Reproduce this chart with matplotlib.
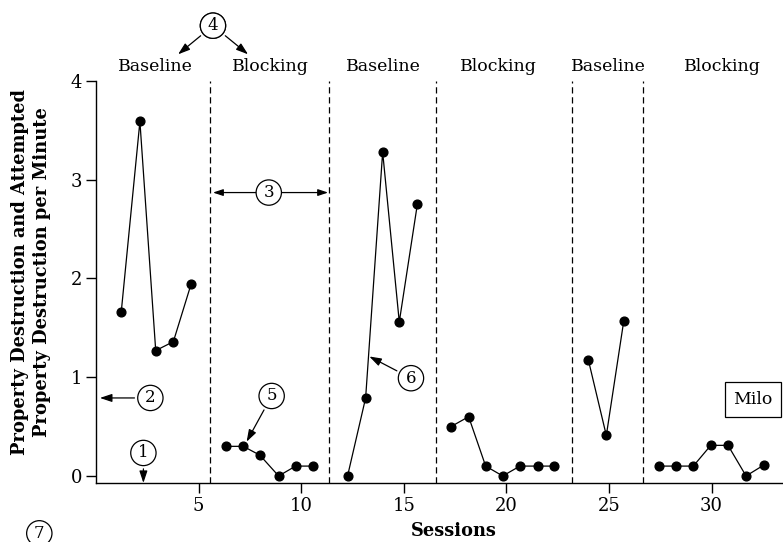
import matplotlib.pyplot as plt

plt.rcParams['font.family'] = ['DejaVu Serif']

# seans konumları ve değerler
bl1_x = [1.23, 2.14, 2.91, 3.77, 4.63]
bl1_y = [1.66, 3.59, 1.27, 1.36, 1.94]
bk1_x = [6.32, 7.18, 7.99, 8.90, 9.73, 10.59]
bk1_y = [0.30, 0.30, 0.21, 0.0, 0.10, 0.10]
bl2_x = [12.26, 13.14, 13.97, 14.78, 15.66]
bl2_y = [0.0, 0.79, 3.28, 1.56, 2.75]
bk2_x = [17.30, 18.16, 18.99, 19.82, 20.66, 21.52, 22.32]
bk2_y = [0.50, 0.60, 0.10, 0.0, 0.10, 0.10, 0.10]
bl3_x = [24.00, 24.87, 25.72]
bl3_y = [1.17, 0.41, 1.57]
bk3_x = [27.42, 28.27, 29.11, 29.96, 30.80, 31.68, 32.54]
bk3_y = [0.10, 0.10, 0.10, 0.31, 0.31, 0.0, 0.11]

phase_lines = [5.57, 11.37, 16.57, 23.2, 26.67]
phase_names = ['Baseline', 'Blocking', 'Baseline', 'Blocking', 'Baseline', 'Blocking']
phase_centers = [2.88, 8.50, 13.99, 19.59, 24.95, 30.53]

x_ticks = [5, 10, 15, 20, 25, 30]
y_ticks = [0, 1, 2, 3, 4]

fig = plt.figure(figsize=(7.83, 5.42), dpi=100)
ax = fig.add_axes([0.1226, 0.1089, 0.8774, 0.7417])
ax.set_xlim(0, 33.48)
ax.set_ylim(-0.071, 4)

for xs, ys in [(bl1_x, bl1_y), (bk1_x, bk1_y), (bl2_x, bl2_y),
               (bk2_x, bk2_y), (bl3_x, bl3_y), (bk3_x, bk3_y)]:
    ax.plot(xs, ys, color='black', lw=0.9, marker='o', ms=6.3, clip_on=False, zorder=3)

for xl in phase_lines:
    ax.plot([xl, xl], [-0.071, 4], color='black', lw=0.9, ls=(0, (5, 3)), clip_on=False)

for name, xc in zip(phase_names, phase_centers):
    ax.text(xc, 4.15, name, ha='center', va='center', fontsize=12.5)

ax.spines['top'].set_visible(False)
ax.spines['right'].set_visible(False)
ax.spines['left'].set_linewidth(1.0)
ax.spines['bottom'].set_linewidth(1.0)
ax.set_xticks(x_ticks)
ax.set_yticks(y_ticks)
ax.tick_params(direction='out', length=7, width=1, labelsize=13, pad=3)

ax.set_xlabel('Sessions', fontsize=12.8, fontweight='bold')
ax.xaxis.set_label_coords(0.521, -0.097)
ax.set_ylabel('Property Destruction and Attempted\nProperty Destruction per Minute',
              fontsize=12.9, fontweight='bold', linespacing=1.3)
ax.yaxis.label.set_va('center')
ax.yaxis.set_label_coords(-0.0946, 0.525)

circ = dict(boxstyle='circle,pad=0.25', fc='white', ec='black', lw=0.9)
arr = dict(arrowstyle='-|>,head_length=0.6,head_width=0.2', color='black', lw=0.9, shrinkB=0)

def mark(num, center, tip):
    ax.annotate(num, xy=tip, xytext=center, ha='center', va='center', fontsize=12,
                bbox=circ, arrowprops=arr, annotation_clip=False, zorder=5)

mark('4', (5.70, 4.56), (4.00, 4.27))
mark('4', (5.70, 4.56), (7.41, 4.27))
mark('2', (2.65, 0.79), (0.19, 0.79))
mark('1', (2.31, 0.233), (2.31, -0.071))
mark('5', (8.56, 0.81), (7.34, 0.347))
mark('6', (15.35, 0.99), (13.32, 1.21))

ax.annotate('', xy=(5.70, 2.87), xytext=(11.31, 2.87),
            arrowprops=dict(arrowstyle='<|-|>,head_length=0.6,head_width=0.2',
                            color='black', lw=0.9, shrinkA=0, shrinkB=0))
ax.text(8.42, 2.87, '3', ha='center', va='center', fontsize=12, bbox=circ, zorder=5)

fig.text(0.0502, 0.016, '7', ha='center', va='center', fontsize=12, bbox=circ)

ax.text(32.02, 0.775, 'Milo', ha='center', va='center', fontsize=12.5,
        bbox=dict(boxstyle='square,pad=0.5', fc='white', ec='black', lw=0.9))

fig.savefig('out.png', dpi=100)
